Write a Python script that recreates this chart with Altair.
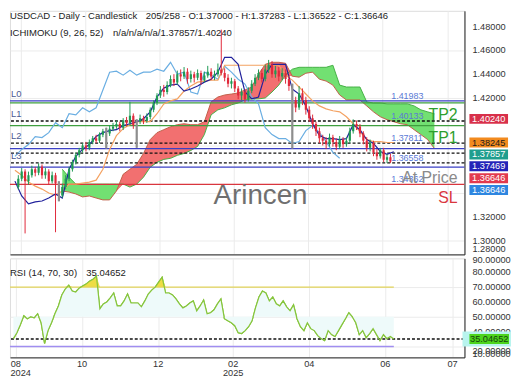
import altair as alt
import pandas as pd

# ---------------- data ----------------
candle_bars = list(range(2, 228, 2))
opens = [
    1.355, 1.350, 1.345, 1.352, 1.358, 1.350, 1.355, 1.360, 1.357, 1.362,
    1.355, 1.358, 1.350, 1.355, 1.348, 1.338, 1.345, 1.352, 1.360, 1.366,
    1.372, 1.376, 1.380, 1.378, 1.383, 1.386, 1.384, 1.389, 1.392, 1.390,
    1.394, 1.396, 1.398, 1.395, 1.401, 1.399, 1.405, 1.397, 1.400, 1.403,
    1.401, 1.404, 1.410, 1.416, 1.422, 1.427, 1.425, 1.431, 1.436, 1.433,
    1.440, 1.438, 1.442, 1.436, 1.440, 1.437, 1.441, 1.435, 1.439, 1.442,
    1.438, 1.440, 1.444, 1.441, 1.437, 1.432, 1.434, 1.428, 1.422, 1.425,
    1.419, 1.426, 1.432, 1.437, 1.441, 1.436, 1.444, 1.448, 1.440, 1.443,
    1.438, 1.441, 1.436, 1.430, 1.418, 1.412, 1.424, 1.418, 1.410, 1.403,
    1.398, 1.392, 1.386, 1.384, 1.381, 1.387, 1.383, 1.379, 1.385, 1.381,
    1.384, 1.392, 1.398, 1.396, 1.390, 1.384, 1.378, 1.382, 1.374, 1.371,
    1.376, 1.368, 1.370]
highs = [
    1.358, 1.353, 1.355, 1.361, 1.360, 1.358, 1.363, 1.362, 1.365, 1.364,
    1.361, 1.360, 1.358, 1.357, 1.350, 1.348, 1.355, 1.362, 1.368, 1.374,
    1.378, 1.382, 1.383, 1.385, 1.388, 1.389, 1.391, 1.394, 1.395, 1.397,
    1.399, 1.401, 1.400, 1.403, 1.404, 1.4167, 1.407, 1.402, 1.406, 1.405,
    1.407, 1.412, 1.418, 1.424, 1.430, 1.431, 1.434, 1.439, 1.440, 1.443,
    1.444, 1.446, 1.445, 1.443, 1.442, 1.444, 1.443, 1.442, 1.447, 1.445,
    1.443, 1.449, 1.4775, 1.445, 1.440, 1.437, 1.436, 1.430, 1.428, 1.427,
    1.429, 1.435, 1.440, 1.444, 1.444, 1.448, 1.452, 1.451, 1.447, 1.446,
    1.445, 1.444, 1.439, 1.432, 1.421, 1.430, 1.428, 1.421, 1.413, 1.406,
    1.400, 1.395, 1.389, 1.387, 1.390, 1.389, 1.386, 1.388, 1.387, 1.387,
    1.395, 1.402, 1.401, 1.398, 1.392, 1.387, 1.385, 1.384, 1.377, 1.378,
    1.378, 1.3728, 1.37283]
lows = [
    1.346, 1.342, 1.343, 1.350, 1.306, 1.347, 1.353, 1.354, 1.355, 1.352,
    1.352, 1.347, 1.348, 1.307, 1.333, 1.336, 1.343, 1.350, 1.358, 1.364,
    1.370, 1.374, 1.375, 1.376, 1.381, 1.382, 1.382, 1.387, 1.3775, 1.388,
    1.392, 1.394, 1.392, 1.393, 1.396, 1.397, 1.394, 1.378, 1.398, 1.398,
    1.399, 1.402, 1.408, 1.414, 1.420, 1.421, 1.423, 1.429, 1.430, 1.431,
    1.434, 1.436, 1.432, 1.433, 1.433, 1.435, 1.431, 1.433, 1.437, 1.435,
    1.435, 1.438, 1.439, 1.434, 1.429, 1.428, 1.425, 1.419, 1.418, 1.416,
    1.417, 1.424, 1.430, 1.435, 1.433, 1.434, 1.441, 1.437, 1.437, 1.434,
    1.435, 1.432, 1.426, 1.3775, 1.408, 1.410, 1.414, 1.406, 1.400, 1.394,
    1.388, 1.382, 1.380, 1.377, 1.379, 1.379, 1.376, 1.377, 1.378, 1.379,
    1.382, 1.390, 1.393, 1.387, 1.381, 1.375, 1.375, 1.371, 1.368, 1.369,
    1.366, 1.3652, 1.36522]
closes = [
    1.350, 1.345, 1.352, 1.358, 1.350, 1.355, 1.360, 1.357, 1.362, 1.355,
    1.358, 1.350, 1.355, 1.348, 1.338, 1.345, 1.352, 1.360, 1.366, 1.372,
    1.376, 1.380, 1.378, 1.383, 1.386, 1.384, 1.389, 1.392, 1.390, 1.394,
    1.396, 1.398, 1.395, 1.401, 1.399, 1.405, 1.397, 1.400, 1.403, 1.401,
    1.404, 1.410, 1.416, 1.422, 1.427, 1.425, 1.431, 1.436, 1.433, 1.440,
    1.438, 1.442, 1.436, 1.440, 1.437, 1.441, 1.435, 1.439, 1.442, 1.438,
    1.440, 1.444, 1.441, 1.437, 1.432, 1.434, 1.428, 1.422, 1.425, 1.419,
    1.426, 1.432, 1.437, 1.441, 1.436, 1.444, 1.448, 1.440, 1.443, 1.438,
    1.441, 1.436, 1.430, 1.418, 1.412, 1.424, 1.418, 1.410, 1.403, 1.398,
    1.392, 1.386, 1.384, 1.381, 1.387, 1.383, 1.379, 1.385, 1.381, 1.384,
    1.392, 1.398, 1.396, 1.390, 1.384, 1.378, 1.382, 1.374, 1.371, 1.376,
    1.368, 1.370, 1.36646]
grey_bars = [30, 58, 76, 168]

line_bars = list(range(0, 229, 4))
tenkan = [
    1.3583, 1.3500, 1.3375, 1.3308, 1.3325, 1.3333, 1.3358, 1.3392, 1.3358, 1.3600,
    1.3708, 1.3767, 1.3808, 1.3875, 1.3908, 1.3925, 1.3933, 1.3967, 1.3983, 1.4000,
    1.4025, 1.4083, 1.4208, 1.4283, 1.4308, 1.4317, 1.4258, 1.4275, 1.4300, 1.4333,
    1.4358, 1.4417, 1.4542, 1.4542, 1.4483, 1.4250, 1.4192, 1.4208, 1.4400, 1.4483,
    1.4483, 1.4483, 1.4275, 1.4233, 1.4133, 1.3983, 1.3883, 1.3858, 1.3858, 1.3850,
    1.3858, 1.3975, 1.3933, 1.3850, 1.3817, 1.3750, 1.3725, 1.3747]
kijun = [
    1.3608, 1.3592, 1.3550, 1.3492, 1.3458, 1.3433, 1.3400, 1.3383, 1.3417, 1.3475,
    1.3475, 1.3483, 1.3492, 1.3508, 1.3600, 1.3767, 1.3883, 1.3942, 1.3975, 1.4000,
    1.4000, 1.4000, 1.4067, 1.4150, 1.4175, 1.4192, 1.4258, 1.4300, 1.4333, 1.4342,
    1.4350, 1.4350, 1.4475, 1.4475, 1.4475, 1.4475, 1.4475, 1.4475, 1.4475, 1.4475,
    1.4475, 1.4392, 1.4350, 1.4292, 1.4233, 1.4175, 1.4133, 1.4108, 1.4092, 1.4083,
    1.4042, 1.3983, 1.3917, 1.3850, 1.3833, 1.3833, 1.3825, 1.3825]
chikou_bars = list(range(0, 197, 4))
chikou = [
    1.3517, 1.3708, 1.3767, 1.3808, 1.3875, 1.3867, 1.3908, 1.3992, 1.3950, 1.4067,
    1.4058, 1.4117, 1.4083, 1.4117, 1.4267, 1.4417, 1.4425, 1.4392, 1.4433, 1.4392,
    1.4417, 1.4417, 1.4442, 1.4425, 1.4500, 1.4400, 1.4417, 1.4250, 1.4233, 1.4417,
    1.4392, 1.4358, 1.4467, 1.4417, 1.4358, 1.4317, 1.4208, 1.4150, 1.3950, 1.3892,
    1.3858, 1.3858, 1.3817, 1.3833, 1.3925, 1.3967, 1.3908, 1.3833, 1.3742, 1.3692]
cloud_bars = list(range(32, 253, 4))
senkou_a = [
    1.3600, 1.3533, 1.3475, 1.3475, 1.3475, 1.3475, 1.3475, 1.3475, 1.3475, 1.3475,
    1.3450, 1.3475, 1.3533, 1.3617, 1.3658, 1.3683, 1.3692, 1.3717, 1.3733, 1.3758,
    1.3792, 1.3892, 1.4058, 1.4100, 1.4117, 1.4142, 1.4158, 1.4183, 1.4192, 1.4192,
    1.4200, 1.4250, 1.4308, 1.4392, 1.4442, 1.4458, 1.4458, 1.4458, 1.4458, 1.4458,
    1.4475, 1.4308, 1.4292, 1.4292, 1.4292, 1.4167, 1.4158, 1.4158, 1.4150, 1.4150,
    1.4150, 1.4150, 1.4133, 1.4100, 1.4083, 1.4067]
senkou_b = [
    1.3417, 1.3408, 1.3392, 1.3367, 1.3375, 1.3358, 1.3342, 1.3342, 1.3417, 1.3558,
    1.3600, 1.3642, 1.3733, 1.3850, 1.3908, 1.3933, 1.3958, 1.3975, 1.3983, 1.3975,
    1.3975, 1.4000, 1.4167, 1.4208, 1.4225, 1.4233, 1.4242, 1.4267, 1.4292, 1.4400,
    1.4483, 1.4500, 1.4500, 1.4492, 1.4383, 1.4375, 1.4408, 1.4417, 1.4358, 1.4342,
    1.4308, 1.4225, 1.4183, 1.4183, 1.4183, 1.4133, 1.4083, 1.4042, 1.4017, 1.4000,
    1.3983, 1.3975, 1.3933, 1.3892, 1.3850, 1.3775]
rsi = [
    29.3, 30.7, 35.3, 39.3, 44.7, 50.7, 48.7, 50.0, 49.3, 52.0,
    46.0, 32.0, 40.7, 46.0, 52.0, 57.3, 64.7, 68.7, 71.3, 67.3,
    66.7, 69.3, 70.7, 72.0, 74.0, 75.3, 77.3, 55.3, 58.7, 60.0,
    62.7, 66.0, 57.3, 57.3, 60.7, 65.3, 59.3, 59.3, 59.3, 56.7,
    60.7, 65.3, 68.0, 70.0, 73.3, 76.7, 66.0, 66.0, 64.7, 62.0,
    58.7, 56.0, 57.3, 59.3, 60.7, 54.0, 57.3, 61.3, 52.0, 52.7,
    54.7, 58.7, 62.0, 48.7, 47.3, 46.0, 44.0, 39.3, 38.7, 40.7,
    43.3, 47.3, 56.0, 63.3, 67.3, 66.0, 60.7, 63.3, 58.7, 57.3,
    60.7, 56.7, 54.0, 58.0, 48.7, 43.3, 40.7, 46.0, 42.0, 40.7,
    37.3, 35.3, 34.0, 40.7, 38.0, 36.7, 40.7, 44.7, 48.7, 52.7,
    50.0, 46.0, 38.0, 40.7, 36.0, 38.7, 42.0, 38.0, 34.0, 38.0,
    35.3, 36.7, 35.05]

month_ticks = [7.4, 45.7, 89.7, 133.1, 177.1, 221.1, 260.0]
month_labels = ["08", "10", "12", "02", "04", "06", "07"]
year_labels = ["2024", "", "", "2025", "", "", ""]
price_grid = [1.30, 1.32, 1.34, 1.36, 1.38, 1.40, 1.42, 1.44, 1.46, 1.48]
price_labels = [1.30, 1.32, 1.42, 1.44, 1.46, 1.48]
rsi_grid = [30, 40, 50, 60, 70, 80]
rsi_labels = [40, 50, 60, 70, 80]

solid_levels = [1.4175, 1.4158, 1.3967, 1.3773, 1.3617, 1.3473]
solid_colors = ["#3a3fc4", "#3f9f3f", "#3f9f3f", "#3a3fc4", "#3a3fc4", "#d9363e"]
dashed_levels = [1.4006, 1.3819, 1.3736, 1.3653]
level_names = ["L0", "L1", "L2", "L3"]
level_name_prices = [1.4175, 1.4006, 1.3819, 1.3653]
level_values = ["1.41983", "1.40133", "1.37811", "1.36558", "1.34362"]
level_value_prices = [1.4175, 1.4006, 1.3819, 1.3653, 1.3473]
tag_values = [1.40240, 1.38245, 1.37857, 1.37469, 1.36646, 1.36646]
tag_colors = ["#d8304a", "#f28a1e", "#1f9e8e", "#2323b8", "#e23a4e", "#2e86e0"]
tag_text_colors = ["white", "#1a1a1a", "white", "white", "white", "white"]
rsi_upper, rsi_lower, rsi_last = 70, 30, 35.04652

# ---------------- frames ----------------
cdf = pd.DataFrame({"bar": candle_bars, "o": opens, "h": highs, "l": lows, "c": closes})
cdf["kind"] = ["grey" if b in grey_bars else ("up" if c >= o else "down")
               for b, o, c in zip(cdf.bar, cdf.o, cdf.c)]
cdf["btop"] = [h if k == "grey" else max(o, c) for k, h, o, c in zip(cdf.kind, cdf.h, cdf.o, cdf.c)]
cdf["bbot"] = [l if k == "grey" else min(o, c) for k, l, o, c in zip(cdf.kind, cdf.l, cdf.o, cdf.c)]
ldf = pd.DataFrame({"bar": line_bars, "tenkan": tenkan, "kijun": kijun})
chdf = pd.DataFrame({"bar": chikou_bars, "chikou": chikou})
cldf = pd.DataFrame({"bar": cloud_bars, "a": senkou_a, "b": senkou_b})
cldf["lo"] = cldf[["a", "b"]].min(axis=1)
rdf = pd.DataFrame({"bar": candle_bars, "rsi": rsi})
rdf["hi"] = rdf["rsi"].clip(lower=rsi_upper)
rdf["mid"] = 50
rdf["up"] = rsi_upper

X0 = 4.0
W, HM, HR = 459, 246, 100
GRID = "#ebebeb"
FONT = "Liberation Sans"
FS = 9.3
xs = alt.Scale(domain=[X0, 266.86], nice=False, zero=False)
ys = alt.Scale(domain=[1.28833, 1.49333], nice=False, zero=False)
rs = alt.Scale(domain=[22.667, 89.333], nice=False, zero=False)
in_view = f"datum.bar >= {X0}"
candle_view = f"datum.bar >= {X0 + 1.5}"


def X(f="bar", **kw):
    return alt.X(f"{f}:Q", scale=xs, title=None, **kw)


def Y(f, **kw):
    return alt.Y(f"{f}:Q", scale=ys, title=None, **kw)


def R(f, **kw):
    return alt.Y(f"{f}:Q", scale=rs, title=None, **kw)


def label(text, x, y, size, color, align="left", baseline="middle"):
    return alt.Chart(pd.DataFrame({"t": [text]})).mark_text(
        align=align, baseline=baseline, fontSize=size, color=color, font=FONT
    ).encode(text="t:N", x=alt.value(x), y=alt.value(y))


# ---------------- main panel ----------------
x_axis_main = alt.Axis(values=month_ticks, labels=False, ticks=False, domain=True,
                       domainColor="#222", grid=True, gridColor=GRID)
y_axis_main = alt.Axis(orient="right", values=price_grid, labels=False, ticks=False,
                       domain=True, domainColor="#222", grid=True, gridColor=GRID)

green_cloud = alt.Chart(cldf).mark_area(color="#72e072", clip=True).encode(
    x=X(axis=x_axis_main), y=Y("a", axis=y_axis_main), y2="lo")
red_cloud = alt.Chart(cldf).mark_area(color="#f27070", clip=True).encode(
    x=X(), y=Y("b"), y2="lo")
a_line = alt.Chart(cldf).mark_line(color="#46b046", strokeWidth=1, clip=True).encode(x=X(), y=Y("a"))
b_line = alt.Chart(cldf).mark_line(color="#c0604a", strokeWidth=1, clip=True).encode(x=X(), y=Y("b"))

sol = pd.DataFrame({"p": solid_levels, "col": solid_colors})
solid_layers = [alt.Chart(sol[sol.col == col]).mark_rule(color=col, strokeWidth=1.3).encode(y=Y("p"))
                for col in sol.col.unique()]
dashed = alt.Chart(pd.DataFrame({"p": dashed_levels})).mark_rule(
    color="#111", strokeWidth=1.3, strokeDash=[3, 2]).encode(y=Y("p"))

chik = alt.Chart(chdf).transform_filter(in_view).mark_line(
    color="#6aaee2", strokeWidth=1.2, clip=True).encode(x=X(), y=Y("chikou"))
kij = alt.Chart(ldf).transform_filter(in_view).mark_line(
    color="#f4a262", strokeWidth=1.2, clip=True).encode(x=X(), y=Y("kijun"))
ten = alt.Chart(ldf).transform_filter(in_view).mark_line(
    color="#22229c", strokeWidth=1.2, clip=True).encode(x=X(), y=Y("tenkan"))

candle_colors = {"up": "#1f9a55", "down": "#e0283a", "grey": "#8e8e8e"}
candle_layers = []
for kind, col in candle_colors.items():
    sub = cdf[cdf.kind == kind]
    candle_layers.append(alt.Chart(sub).transform_filter(candle_view).mark_rule(
        color=col, strokeWidth=1, clip=True).encode(x=X(), y=Y("l"), y2="h"))
    candle_layers.append(alt.Chart(sub).transform_filter(candle_view).mark_bar(
        color=col, size=2.2, clip=True).encode(x=X(), y=Y("btop"), y2="bbot"))

lname = alt.Chart(pd.DataFrame({"t": level_names, "p": level_name_prices})).mark_text(
    align="left", baseline="alphabetic", dy=-4, fontSize=9.5, color="#4a5a92", font=FONT
).encode(x=alt.value(1), y=Y("p"), text="t:N")
lval = alt.Chart(pd.DataFrame({"t": level_values, "p": level_value_prices})).mark_text(
    align="left", baseline="alphabetic", dy=-2, fontSize=9, color="#5a7ad6", font=FONT
).encode(x=alt.value(385), y=Y("p"), text="t:N")

big = []
for txt, p, col, dy in [("TP2", 1.4006, "#2e9e2e", -1), ("TP1", 1.3819, "#2e9e2e", 0),
                        ("At Price", 1.3473, "#8a8a8a", -1), ("SL", 1.3473, "#d9363e", 19)]:
    big.append(alt.Chart(pd.DataFrame({"t": [txt], "p": [p]})).mark_text(
        align="right", baseline="alphabetic", dy=dy, fontSize=16, color=col, font=FONT
    ).encode(x=alt.value(452), y=Y("p"), text="t:N"))

# right-hand price scale labels
plab = pd.DataFrame({"v": price_labels})
plab["t"] = [f"{v:.5f}" for v in price_labels]
price_text = alt.Chart(plab).mark_text(align="left", baseline="middle", fontSize=FS,
                                       color="#333", font=FONT).encode(
    x=alt.value(W + 8), y=Y("v"), text="t:N")

# stacked price tags on the right axis
tag_pos = []
for v in tag_values:
    tag_pos.append(v if not tag_pos else min(v, tag_pos[-1] - 0.01))
tag_layers = []
for v, pos, bg, fg in zip(tag_values, tag_pos, tag_colors, tag_text_colors):
    d = pd.DataFrame({"t": [f"{v:.5f}"], "p": [pos], "top": [pos + 0.0042], "bot": [pos - 0.0042]})
    tag_layers.append(alt.Chart(d).mark_rect(color=bg).encode(
        x=alt.value(464), x2=alt.value(503), y=Y("top"), y2="bot"))
    tag_layers.append(alt.Chart(d).mark_text(color=fg, fontSize=FS, font=FONT, align="center",
                                             baseline="middle").encode(
        x=alt.value(483.5), y=Y("p"), text="t:N"))

texts_main = [
    label("USDCAD - Daily - Candlestick", 0, 5, 9.6, "#222"),
    label("205/258 - O:1.37000 - H:1.37283 - L:1.36522 - C:1.36646", 137, 5, 9.6, "#222"),
    label("ICHIMOKU (9, 26, 52)", 0, 22, 9.6, "#222"),
    label("n/a/n/a/n/a/1.37857/1.40240", 104, 22, 9.6, "#222"),
    label("Arincen", 253, 195, 28, "#6f6f6f", align="center", baseline="alphabetic"),
    label("1.28000", W + 8, HM - 5, FS, "#333"),
]

main = alt.layer(
    green_cloud, red_cloud, a_line, b_line, *solid_layers, dashed,
    chik, kij, ten, *candle_layers, lname, lval, *big, price_text, *tag_layers, *texts_main
).properties(width=W, height=HM)

# ---------------- RSI panel ----------------
x_axis_rsi = alt.Axis(values=month_ticks, labels=False, ticks=False, domain=True,
                      domainColor="#222", grid=True, gridColor=GRID)
y_axis_rsi = alt.Axis(orient="right", values=rsi_grid, labels=False, ticks=False,
                      domain=True, domainColor="#222", grid=True, gridColor=GRID)

rsi_line = alt.Chart(rdf).transform_filter(candle_view).mark_line(
    color="#86c53c", strokeWidth=1.2, clip=True).encode(
    x=X(axis=x_axis_rsi), y=R("rsi", axis=y_axis_rsi))
cyan = alt.Chart(rdf).transform_filter(candle_view).mark_area(
    color="#eefafa", clip=True).encode(x=X(), y=R("rsi"), y2="mid")
yellow = alt.Chart(rdf).transform_filter(candle_view).mark_area(
    color="#eedd44", clip=True).encode(x=X(), y=R("hi"), y2="up")
bands = pd.DataFrame({"x0": [X0, X0], "x1": [226, 226], "v": [rsi_upper, rsi_lower]})
upper_rule = alt.Chart(bands[bands.v == rsi_upper]).mark_rule(color="#e2d35a", strokeWidth=1.3).encode(
    x=X("x0"), x2="x1", y=R("v"))
lower_rule = alt.Chart(bands[bands.v == rsi_lower]).mark_rule(color="#a08ef0", strokeWidth=1.3).encode(
    x=X("x0"), x2="x1", y=R("v"))
last_rule = alt.Chart(pd.DataFrame({"v": [rsi_last]})).mark_rule(
    color="#111", strokeWidth=1.3, strokeDash=[3, 2]).encode(y=R("v"))

rlab = pd.DataFrame({"v": rsi_labels})
rlab["t"] = [f"{v:.5f}" for v in rsi_labels]
rsi_text = alt.Chart(rlab).mark_text(align="left", baseline="middle", fontSize=FS,
                                     color="#333", font=FONT).encode(
    x=alt.value(W + 8), y=R("v"), text="t:N")

rt = pd.DataFrame({"t": [f"{rsi_last:.5f}"], "p": [rsi_last], "top": [rsi_last + 3.3],
                   "bot": [rsi_last - 3.3], "top2": [rsi_last + 5.0], "bot2": [rsi_last - 5.0]})
rsi_glow = alt.Chart(rt).mark_rect(color="#b8f4ee").encode(
    x=alt.value(457), x2=alt.value(506), y=R("top2"), y2="bot2")
rsi_tag = alt.Chart(rt).mark_rect(color="#4cd41c").encode(
    x=alt.value(464), x2=alt.value(504), y=R("top"), y2="bot")
rsi_tag_t = alt.Chart(rt).mark_text(color="#12420f", fontSize=FS, font=FONT, align="center",
                                    baseline="middle").encode(
    x=alt.value(484), y=R("p"), text="t:N")

# month / year labels under the RSI panel
mdf = pd.DataFrame({"tick": month_ticks, "m": month_labels, "yr": year_labels})
mdf["ypos"] = mdf["tick"].clip(lower=X0 + 6.2)
month_text = alt.Chart(mdf).mark_text(align="center", baseline="middle", fontSize=FS,
                                      color="#333", font=FONT).encode(
    x=X("tick"), y=alt.value(HR + 7), text="m:N")
year_text = alt.Chart(mdf[mdf.yr != ""]).mark_text(align="center", baseline="middle", fontSize=FS,
                                                   color="#333", font=FONT).encode(
    x=X("ypos"), y=alt.value(HR + 16), text="yr:N")

texts_rsi = [
    label("RSI (14, 70, 30)", 0, 15, 9.6, "#222"),
    label(f"{rsi_last:.5f}", 77, 15, 9.6, "#222"),
    label("90.00000", W + 8, 2, FS, "#333"),
    label("20.00000", W + 8, HR - 6, FS, "#333"),
    label("10.00000", W + 8, HR - 3, FS, "#333"),
]

rsi_chart = alt.layer(
    rsi_line, cyan, yellow, upper_rule, lower_rule, last_rule, rsi_line,
    rsi_text, rsi_glow, rsi_tag, rsi_tag_t, month_text, year_text, *texts_rsi
).properties(width=W, height=HR)

chart = alt.vconcat(main, rsi_chart, spacing=0).properties(
    padding={"left": 0, "top": 0, "right": 0, "bottom": 0}
).configure_view(stroke=None).configure(font=FONT)

chart.save("out.html", embed_options={"renderer": "svg", "actions": False})
